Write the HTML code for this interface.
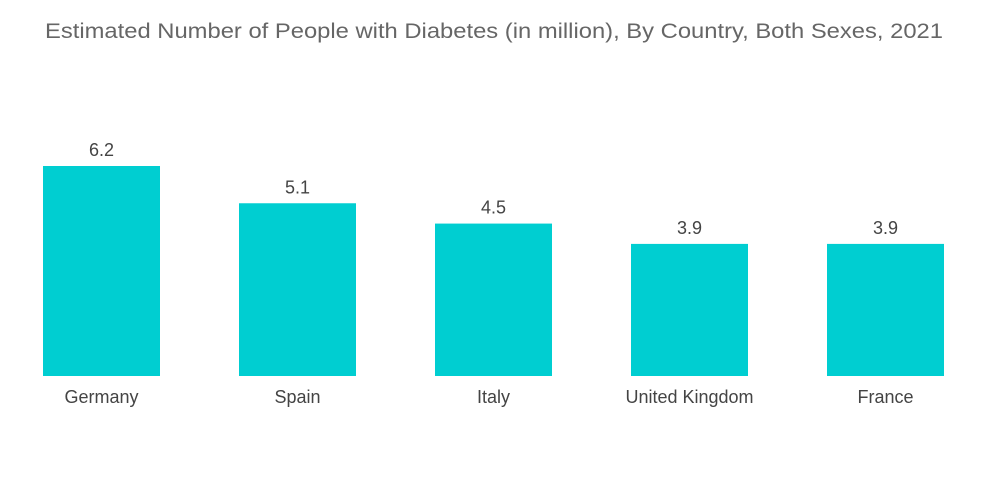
<!DOCTYPE html>
<html><head><meta charset="utf-8"><style>
html,body{margin:0;padding:0;background:#fff;width:1000px;height:504px;overflow:hidden}
svg text{font-family:"Liberation Sans",sans-serif}
</style></head><body>
<svg width="1000" height="504">
<text x="494" y="38" text-anchor="middle" font-size="21" fill="#666" textLength="898" lengthAdjust="spacingAndGlyphs">Estimated Number of People with Diabetes (in million), By Country, Both Sexes, 2021</text>
<g id="bars"></g>
</svg>
<script>
const categories=["Germany","Spain","Italy","United Kingdom","France"];
const values=[6.2,5.1,4.5,3.9,3.9];
const labels=["6.2","5.1","4.5","3.9","3.9"];
const ns="http://www.w3.org/2000/svg";
const g=document.getElementById("bars");
const base=376, perUnit=210/6.2, x0=43, step=196, bw=117;
function y(v){return base-v*perUnit;}
categories.forEach((c,i)=>{
  const x=x0+i*step;
  const r=document.createElementNS(ns,"rect");
  r.setAttribute("x",x);r.setAttribute("y",y(values[i]));
  r.setAttribute("width",bw);r.setAttribute("height",base-y(values[i]));
  r.setAttribute("fill","#00ced1");
  
  
  g.appendChild(r);
  const t=document.createElementNS(ns,"text");
  t.setAttribute("x",x+bw/2);t.setAttribute("y",y(values[i])-10);
  t.setAttribute("text-anchor","middle");t.setAttribute("font-size","18");t.setAttribute("fill","#444");
  t.textContent=labels[i];
  
  
  g.appendChild(t);
  const l=document.createElementNS(ns,"text");
  l.setAttribute("x",x+bw/2);l.setAttribute("y",403);
  l.setAttribute("text-anchor","middle");l.setAttribute("font-size","18");l.setAttribute("fill","#444");
  l.textContent=c;
  
  
  g.appendChild(l);
});
</script>
</body></html>
